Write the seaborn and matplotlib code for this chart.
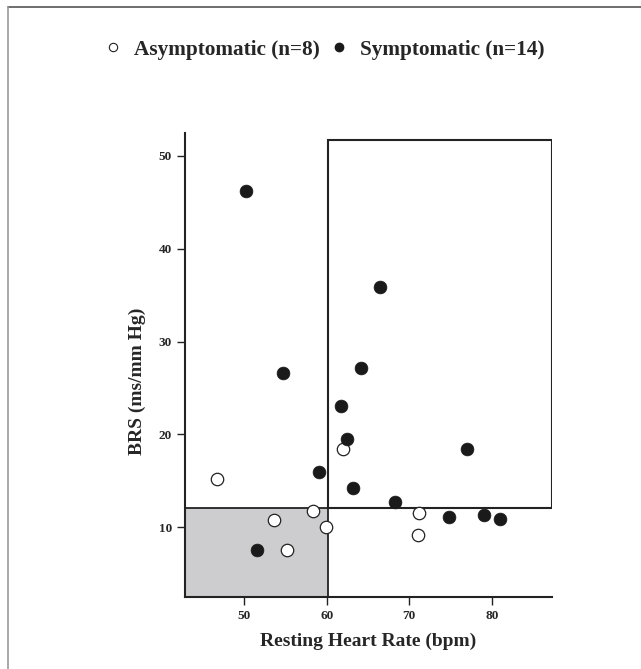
import matplotlib
matplotlib.use("Agg")
import matplotlib.pyplot as plt
from matplotlib.patches import Rectangle
from matplotlib.lines import Line2D
import seaborn as sns
import pandas as pd

# asymptomatic (open circles)
asym_hr = [46.7, 53.6, 55.2, 58.3, 59.9, 62.0, 71.2, 71.0]
asym_brs = [15.2, 10.8, 7.5, 11.7, 10.0, 18.4, 11.5, 9.2]

# symptomatic (filled circles)
sym_hr = [50.2, 54.7, 51.5, 59.0, 61.7, 62.5, 63.2, 64.2, 66.5, 68.3, 74.8, 77.0, 79.0, 81.0]
sym_brs = [46.2, 26.6, 7.5, 15.9, 23.1, 19.5, 14.2, 27.1, 35.9, 12.7, 11.1, 18.4, 11.3, 10.9]

x_ticks = [50, 60, 70, 80]
y_ticks = [10, 20, 30, 40, 50]
hr_cut = 60.2
brs_cut = 12.05

sns.set_style("ticks")
plt.rcParams['font.family'] = ['Liberation Serif', 'DejaVu Serif']
plt.rcParams['font.weight'] = 'bold'

asym = pd.DataFrame({'hr': asym_hr, 'brs': asym_brs})
sym = pd.DataFrame({'hr': sym_hr, 'brs': sym_brs})

fig = plt.figure(figsize=(6.41, 6.69), dpi=100)
ax = fig.add_axes([0.2886, 0.108, 0.8611 - 0.2886, 0.8016 - 0.108])

xlo, xhi = 42.8, 87.3
ylo, yhi = 2.5, 52.5

# shaded low-HR / low-BRS quadrant and the high-HR box
ax.add_patch(Rectangle((xlo, ylo), hr_cut - xlo, brs_cut - ylo,
                       facecolor='#cdcdcf', edgecolor='#222222', lw=1.3, zorder=1))
ax.add_patch(Rectangle((hr_cut, brs_cut), xhi - hr_cut, 51.7 - brs_cut,
                       facecolor='none', edgecolor='#222222', lw=1.5, zorder=1))

sns.scatterplot(data=asym, x='hr', y='brs', ax=ax, s=80, facecolor='white',
                edgecolor='#222222', linewidth=0.9, zorder=3)
sns.scatterplot(data=sym, x='hr', y='brs', ax=ax, s=85, color='#1a1a1a',
                edgecolor='#1a1a1a', linewidth=0.5, zorder=3)

ax.set_xlim(xlo, xhi)
ax.set_ylim(ylo, yhi)
ax.set_xticks(x_ticks)
ax.set_yticks(y_ticks)
ax.tick_params(labelsize=9.5, length=6, width=1, color='#222222')
for lab in ax.get_xticklabels() + ax.get_yticklabels():
    lab.set_fontweight('bold')
sns.despine(ax=ax)
for sp in ['left', 'bottom']:
    ax.spines[sp].set_linewidth(1.5)
    ax.spines[sp].set_color('#222222')
ax.set_xlabel('Resting Heart Rate (bpm)', fontsize=14, fontweight='bold', labelpad=8)
ax.set_ylabel('BRS (ms/mm Hg)', fontsize=14, fontweight='bold')
ax.yaxis.set_label_coords(-0.106, 0.465)

handles = [Line2D([], [], ls='none', marker='o', ms=6, mfc='white', mec='#222222', mew=0.8),
           Line2D([], [], ls='none', marker='o', ms=6, mfc='#1a1a1a', mec='#1a1a1a')]
fig.legend(handles, ['Asymptomatic (n=8)', 'Symptomatic (n=14)'], loc='center',
           bbox_to_anchor=(0.505, 0.926), ncol=2, frameon=False, handlelength=1.0,
           handletextpad=0.5, columnspacing=0.4, borderpad=0, borderaxespad=0,
           prop={'size': 15.3, 'weight': 'bold'})

# page frame lines (top and left)
fig.add_artist(Line2D([0.012, 1.0], [0.99, 0.99], transform=fig.transFigure, color='#555555', lw=1.2))
fig.add_artist(Line2D([0.013, 0.013], [0.0, 0.99], transform=fig.transFigure, color='#999999', lw=1.2))

fig.savefig('out.png', dpi=100)
